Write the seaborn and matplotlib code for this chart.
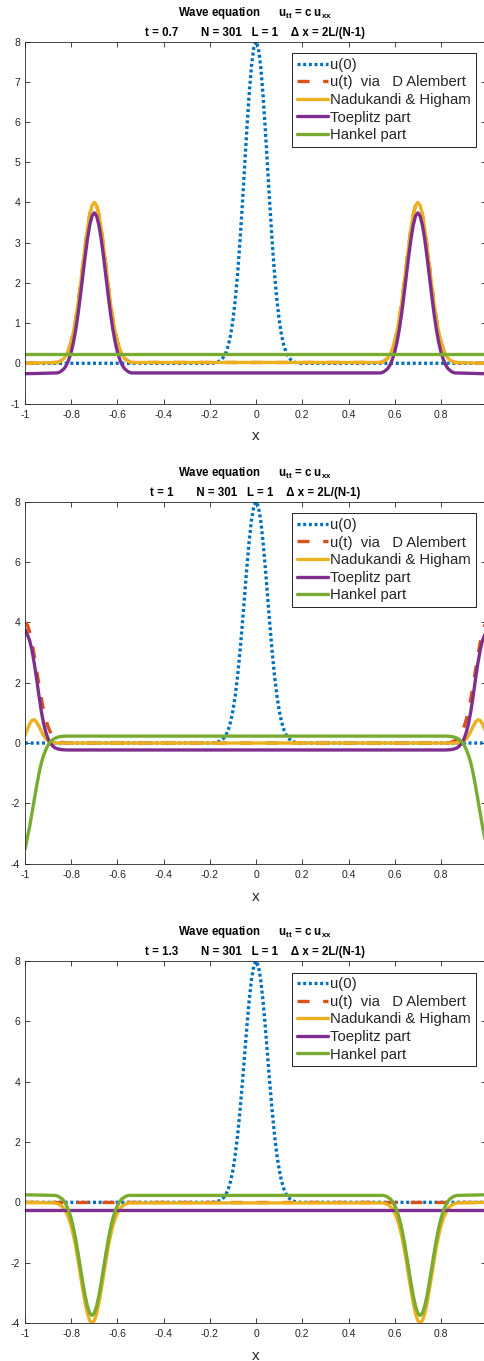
import matplotlib
matplotlib.use("Agg")
import numpy as np
import pandas as pd
import seaborn as sns
import matplotlib.pyplot as plt

sns.set_style("ticks")
plt.rcParams['font.family'] = ['Liberation Sans', 'DejaVu Sans']
plt.rcParams['axes.unicode_minus'] = False
plt.rcParams['mathtext.fontset'] = 'custom'
plt.rcParams['mathtext.rm'] = 'Liberation Sans'
plt.rcParams['mathtext.bf'] = 'Liberation Sans:bold'

# ---- data ----
times = ["0.7", "1", "1.3"]

# initial pulse u(0), same in all panels
x_u0 = [-1.0, -0.19, -0.18, -0.17, -0.16, -0.15, -0.14, -0.13, -0.12, -0.11, -0.10,
        -0.09, -0.08, -0.07, -0.06, -0.05, -0.04, -0.03, -0.02, -0.01, 0.0,
        0.01, 0.02, 0.03, 0.04, 0.05, 0.06, 0.07, 0.08, 0.09, 0.10,
        0.11, 0.12, 0.13, 0.14, 0.15, 0.16, 0.17, 0.18, 0.19, 0.9933]
u0 = [0.0, 0.00, 0.01, 0.02, 0.05, 0.09, 0.16, 0.27, 0.45, 0.71, 1.08,
      1.58, 2.22, 3.00, 3.89, 4.85, 5.81, 6.68, 7.38, 7.84, 8.00,
      7.84, 7.38, 6.68, 5.81, 4.85, 3.89, 3.00, 2.22, 1.58, 1.08,
      0.71, 0.45, 0.27, 0.16, 0.09, 0.05, 0.02, 0.01, 0.00, 0.0]

# t = 0.7
x_07 = [-1.0, -0.86, -0.85, -0.84, -0.83, -0.82, -0.81, -0.80, -0.79, -0.78, -0.77, -0.76,
        -0.75, -0.74, -0.73, -0.72, -0.71, -0.70, -0.69, -0.68, -0.67, -0.66, -0.65,
        -0.64, -0.63, -0.62, -0.61, -0.60, -0.59, -0.58, -0.57, -0.56, -0.55, -0.54,
        0.54, 0.55, 0.56, 0.57, 0.58, 0.59, 0.60, 0.61, 0.62, 0.63, 0.64, 0.65,
        0.66, 0.67, 0.68, 0.69, 0.70, 0.71, 0.72, 0.73, 0.74, 0.75, 0.76,
        0.77, 0.78, 0.79, 0.80, 0.81, 0.82, 0.83, 0.84, 0.85, 0.86, 0.9933]
nh_07 = [0.00, 0.02, 0.04, 0.08, 0.13, 0.22, 0.36, 0.54, 0.79, 1.11, 1.50, 1.95,
         2.43, 2.90, 3.34, 3.69, 3.92, 4.00, 3.92, 3.69, 3.34, 2.90, 2.43,
         1.95, 1.50, 1.11, 0.79, 0.54, 0.36, 0.22, 0.13, 0.08, 0.04, 0.02,
         0.02, 0.04, 0.08, 0.13, 0.22, 0.36, 0.54, 0.79, 1.11, 1.50, 1.95, 2.43,
         2.90, 3.34, 3.69, 3.92, 4.00, 3.92, 3.69, 3.34, 2.90, 2.43, 1.95,
         1.50, 1.11, 0.79, 0.54, 0.36, 0.22, 0.13, 0.08, 0.04, 0.02, 0.00]
da_07 = nh_07
tp_07 = [-0.26, -0.24, -0.22, -0.18, -0.13, -0.04, 0.10, 0.28, 0.53, 0.85, 1.24, 1.69,
         2.17, 2.64, 3.08, 3.43, 3.66, 3.74, 3.66, 3.43, 3.08, 2.64, 2.17,
         1.69, 1.24, 0.85, 0.53, 0.28, 0.10, -0.04, -0.13, -0.18, -0.22, -0.24,
         -0.24, -0.22, -0.18, -0.13, -0.04, 0.10, 0.28, 0.53, 0.85, 1.24, 1.69, 2.17,
         2.64, 3.08, 3.43, 3.66, 3.74, 3.66, 3.43, 3.08, 2.64, 2.17, 1.69,
         1.24, 0.85, 0.53, 0.28, 0.10, -0.04, -0.13, -0.18, -0.22, -0.24, -0.26]
x_hk07 = [-1.0, 0.9933]
hk_07 = [0.24, 0.24]

# t = 1
x_10 = [-1.00, -0.99, -0.98, -0.97, -0.96, -0.95, -0.94, -0.93, -0.92, -0.91, -0.90,
        -0.89, -0.88, -0.87, -0.86, -0.85, -0.84, -0.82, -0.80,
        0.80, 0.82, 0.84, 0.85, 0.86, 0.87, 0.88, 0.89, 0.90, 0.91, 0.92,
        0.93, 0.94, 0.95, 0.96, 0.97, 0.98, 0.99, 0.9933]
da_10 = [4.00, 3.92, 3.69, 3.34, 2.90, 2.43, 1.95, 1.50, 1.11, 0.79, 0.54,
         0.36, 0.22, 0.13, 0.08, 0.04, 0.02, 0.00, 0.00,
         0.00, 0.00, 0.02, 0.04, 0.08, 0.13, 0.22, 0.36, 0.54, 0.79, 1.11,
         1.50, 1.95, 2.43, 2.90, 3.34, 3.69, 3.92, 3.96]
nh_10 = [0.25, 0.45, 0.63, 0.75, 0.77, 0.70, 0.56, 0.40, 0.25, 0.14, 0.07,
         0.03, 0.01, 0.00, 0.00, 0.00, 0.00, 0.00, 0.00,
         0.00, 0.00, 0.00, 0.00, 0.00, 0.00, 0.01, 0.03, 0.07, 0.14, 0.25,
         0.40, 0.56, 0.70, 0.77, 0.75, 0.63, 0.45, 0.38]
tp_10 = [3.77, 3.60, 3.40, 3.08, 2.65, 2.14, 1.59, 1.08, 0.67, 0.36, 0.14,
         -0.01, -0.10, -0.16, -0.19, -0.21, -0.22, -0.23, -0.23,
         -0.23, -0.23, -0.22, -0.21, -0.19, -0.16, -0.10, -0.01, 0.14, 0.36, 0.67,
         1.08, 1.59, 2.14, 2.65, 3.08, 3.40, 3.60, 3.65]
hk_10 = [-3.52, -3.15, -2.77, -2.33, -1.88, -1.44, -1.03, -0.68, -0.42, -0.22, -0.07,
         0.04, 0.11, 0.16, 0.19, 0.21, 0.22, 0.23, 0.23,
         0.23, 0.23, 0.22, 0.21, 0.19, 0.16, 0.11, 0.04, -0.07, -0.22, -0.42,
         -0.68, -1.03, -1.44, -1.88, -2.33, -2.77, -3.15, -3.27]

# t = 1.3
x_13 = [-1.0, -0.87, -0.86, -0.85, -0.84, -0.83, -0.82, -0.81, -0.80, -0.79, -0.78, -0.77,
        -0.76, -0.75, -0.74, -0.73, -0.72, -0.71, -0.70, -0.69, -0.68, -0.67, -0.66,
        -0.65, -0.64, -0.63, -0.62, -0.61, -0.60, -0.59, -0.58, -0.57, -0.56, -0.55,
        0.55, 0.56, 0.57, 0.58, 0.59, 0.60, 0.61, 0.62, 0.63, 0.64, 0.65, 0.66,
        0.67, 0.68, 0.69, 0.70, 0.71, 0.72, 0.73, 0.74, 0.75, 0.76, 0.77,
        0.78, 0.79, 0.80, 0.81, 0.82, 0.83, 0.84, 0.85, 0.86, 0.87, 0.9933]
nh_13 = [0.00, -0.02, -0.04, -0.08, -0.13, -0.22, -0.36, -0.54, -0.79, -1.11, -1.50, -1.95,
         -2.43, -2.90, -3.34, -3.69, -3.92, -4.00, -3.92, -3.69, -3.34, -2.90, -2.43,
         -1.95, -1.50, -1.11, -0.79, -0.54, -0.36, -0.22, -0.13, -0.08, -0.04, -0.02,
         -0.02, -0.04, -0.08, -0.13, -0.22, -0.36, -0.54, -0.79, -1.11, -1.50, -1.95, -2.43,
         -2.90, -3.34, -3.69, -3.92, -4.00, -3.92, -3.69, -3.34, -2.90, -2.43, -1.95,
         -1.50, -1.11, -0.79, -0.54, -0.36, -0.22, -0.13, -0.08, -0.04, -0.02, 0.00]
hk_13 = [0.25, 0.23, 0.21, 0.17, 0.12, 0.03, -0.11, -0.29, -0.54, -0.86, -1.25, -1.70,
         -2.18, -2.65, -3.09, -3.44, -3.67, -3.75, -3.67, -3.44, -3.09, -2.65, -2.18,
         -1.70, -1.25, -0.86, -0.54, -0.29, -0.11, 0.03, 0.12, 0.17, 0.21, 0.23,
         0.23, 0.21, 0.17, 0.12, 0.03, -0.11, -0.29, -0.54, -0.86, -1.25, -1.70, -2.18,
         -2.65, -3.09, -3.44, -3.67, -3.75, -3.67, -3.44, -3.09, -2.65, -2.18, -1.70,
         -1.25, -0.86, -0.54, -0.29, -0.11, 0.03, 0.12, 0.17, 0.21, 0.23, 0.25]
x_flat = [-1.0, 0.9933]
da_13 = [0.0, 0.0]
tp_13 = [-0.25, -0.25]

labels = ["u(0)", "u(t)  via   D Alembert", "Nadukandi & Higham", "Toeplitz part", "Hankel part"]
colors = ["#0072BD", "#D95319", "#EDB120", "#7E2F8E", "#77AC30"]

panels = [
    dict(da=(x_07, da_07), nh=(x_07, nh_07), tp=(x_07, tp_07), hk=(x_hk07, hk_07),
         ylim=(-1, 8), yticks=list(range(-1, 9))),
    dict(da=(x_10, da_10), nh=(x_10, nh_10), tp=(x_10, tp_10), hk=(x_10, hk_10),
         ylim=(-4, 8), yticks=[-4, -2, 0, 2, 4, 6, 8]),
    dict(da=(x_flat, da_13), nh=(x_13, nh_13), tp=(x_flat, tp_13), hk=(x_13, hk_13),
         ylim=(-4, 8), yticks=[-4, -2, 0, 2, 4, 6, 8]),
]
xticks = [-1, -0.8, -0.6, -0.4, -0.2, 0, 0.2, 0.4, 0.6, 0.8]

fig = plt.figure(figsize=(4.85, 13.61), dpi=100)
H = 1361.0
tops = [41.5, 501.7, 961.0]
ax_h = 362.0
dark = "#262626"
lw = 2.4

for i, p in enumerate(panels):
    bottom = 1 - (tops[i] + ax_h) / H
    ax = fig.add_axes([25 / 485, bottom, 460.6 / 485, ax_h / H])
    sns.lineplot(x=x_u0, y=u0, ax=ax, color=colors[0], lw=lw, label=labels[0],
                 linestyle=(0, (0.9, 0.8)), estimator=None, sort=False)
    sns.lineplot(x=p["da"][0], y=p["da"][1], ax=ax, color=colors[1], lw=lw, label=labels[1],
                 linestyle=(0, (3.6, 4.1)), estimator=None, sort=False)
    sns.lineplot(x=p["nh"][0], y=p["nh"][1], ax=ax, color=colors[2], lw=lw, label=labels[2],
                 estimator=None, sort=False)
    sns.lineplot(x=p["tp"][0], y=p["tp"][1], ax=ax, color=colors[3], lw=lw, label=labels[3],
                 estimator=None, sort=False)
    sns.lineplot(x=p["hk"][0], y=p["hk"][1], ax=ax, color=colors[4], lw=lw, label=labels[4],
                 estimator=None, sort=False)

    ax.set_xlim(-1, 0.9933)
    ax.set_ylim(*p["ylim"])
    ax.set_xticks(xticks)
    ax.set_xticklabels(["%g" % v for v in xticks])
    ax.set_yticks(p["yticks"])
    ax.set_yticklabels(["%g" % v for v in p["yticks"]])
    ax.tick_params(direction="in", top=True, right=True, length=3.6, width=0.6,
                   colors=dark, labelsize=7.5)
    ax.tick_params(axis="x", pad=4.5)
    ax.tick_params(axis="y", pad=3.5)
    for s in ax.spines.values():
        s.set_visible(True)
        s.set_color(dark)
        s.set_linewidth(0.6)

    ax.set_ylabel("")
    ax.set_xlabel("x", fontsize=11, color=dark)
    ax.xaxis.label.set_va("baseline")
    ax.xaxis.set_label_coords(0.5, -0.102)

    ax.text(0.5, 1 + 25.5 / ax_h,
            r"Wave equation      $\mathbf{u_{tt}}$ = c $\mathbf{u_{xx}}$",
            transform=ax.transAxes, ha="center", va="baseline",
            fontsize=8.3, fontweight="bold", color="k")
    ax.text(0.5, 1 + 5.8 / ax_h,
            "t = %s       N = 301   L = 1    \u0394 x = 2L/(N-1)" % times[i],
            transform=ax.transAxes, ha="center", va="baseline",
            fontsize=8.3, fontweight="bold", color="k")

    leg = ax.legend(loc="upper left", bbox_to_anchor=(0.58, 0.968), borderaxespad=0,
                    fontsize=10.7, frameon=True, fancybox=False, framealpha=1,
                    edgecolor="k", labelspacing=0.24, handlelength=2.1,
                    handletextpad=0.15, borderpad=0.32)
    leg.get_frame().set_linewidth(0.6)

fig.savefig("out.png", dpi=100)
